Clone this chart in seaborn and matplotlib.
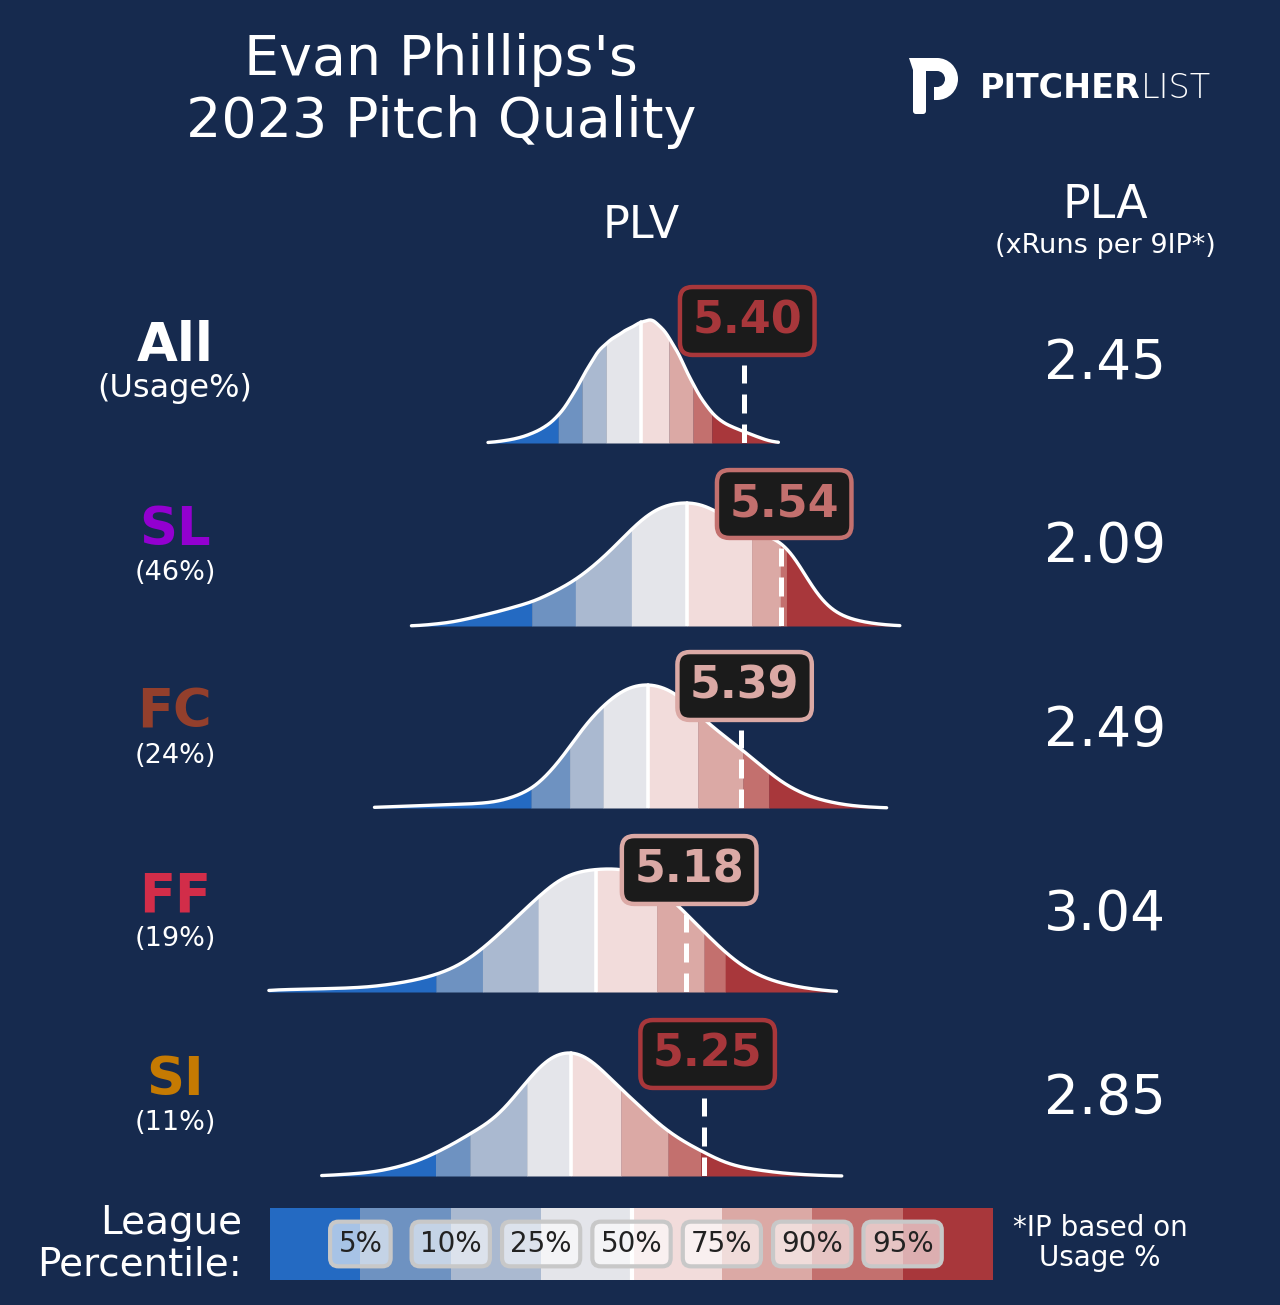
import numpy as np
import matplotlib.pyplot as plt
import seaborn as sns
from matplotlib.colors import ListedColormap
from matplotlib.patches import Wedge, Polygon, FancyBboxPatch

# ------------------------------------------------ DATA ------------------------------------------------ #
pitches = ['All', 'SL', 'FC', 'FF', 'SI']
pitch_colors = ['white', '#9300d0', '#933f2c', '#d22d49', '#c57a02']
usage = ['(Usage%)', '(46%)', '(24%)', '(19%)', '(11%)']
pla = [2.45, 2.09, 2.49, 3.04, 2.85]
plv = [5.40, 5.54, 5.39, 5.18, 5.25]

pct_labels = ['5%', '10%', '25%', '50%', '75%', '90%', '95%']
pcts_all = [4.696, 4.786, 4.877, 5.010, 5.116, 5.207, 5.278]
pcts_sl = [4.596, 4.762, 4.974, 5.185, 5.429, 5.538, 5.561]
pcts_fc = [4.594, 4.739, 4.867, 5.036, 5.225, 5.396, 5.494]
pcts_ff = [4.233, 4.410, 4.621, 4.839, 5.070, 5.248, 5.329]
pcts_si = [4.232, 4.362, 4.577, 4.743, 4.934, 5.112, 5.236]

# league PLV density (PLV value, relative height)
grid_all = [4.43, 4.45, 4.50, 4.55, 4.60, 4.65, 4.70, 4.75, 4.80, 4.85, 4.90, 4.95, 5.00,
            5.05, 5.10, 5.15, 5.20, 5.25, 5.30, 5.35, 5.40, 5.45, 5.50, 5.53]
dens_all = [0, 0.8, 2.5, 5, 9.5, 16, 27, 46, 70, 92, 102, 110, 117,
            123, 110, 89, 60, 38, 23, 16, 11.3, 6, 1.5, 0]

grid_sl = [4.14, 4.20, 4.25, 4.30, 4.35, 4.40, 4.45, 4.50, 4.55, 4.60, 4.65, 4.70, 4.75,
           4.80, 4.85, 4.90, 4.95, 5.00, 5.05, 5.10, 5.15, 5.20, 5.25, 5.30, 5.35, 5.40,
           5.45, 5.50, 5.55, 5.60, 5.65, 5.70, 5.75, 5.80, 5.85, 5.90, 5.95, 5.99]
dens_sl = [0, 1, 2.5, 3.8, 7, 10, 13, 16.5, 20.5, 23.6, 30, 36.5, 43.5,
           53, 64, 76, 90, 103, 114, 120, 122.5, 123, 120.5, 113, 105, 98,
           93, 88, 84, 66, 41, 22, 12, 7, 4, 2, 0.8, 0]

grid_fc = [4.00, 4.05, 4.10, 4.15, 4.20, 4.25, 4.30, 4.35, 4.40, 4.45, 4.50, 4.55, 4.60,
           4.65, 4.70, 4.75, 4.80, 4.85, 4.90, 4.95, 5.00, 5.05, 5.10, 5.15, 5.20, 5.25,
           5.30, 5.35, 5.40, 5.45, 5.50, 5.55, 5.60, 5.65, 5.70, 5.75, 5.80, 5.85, 5.90, 5.94]
dens_fc = [0.7, 1.2, 1.6, 2.1, 2.6, 3.0, 3.4, 3.9, 4.6, 5.5, 8.5, 13, 19,
           31, 46, 64, 83, 97, 109, 118, 122, 122.5, 119, 112, 99, 87,
           76, 66, 56, 45, 34, 24, 17, 11, 7.5, 4.5, 2.5, 1.3, 0.6, 0]

grid_ff = [3.60, 3.65, 3.70, 3.75, 3.80, 3.85, 3.90, 3.95, 4.00, 4.05, 4.10, 4.15, 4.20,
           4.25, 4.30, 4.35, 4.40, 4.45, 4.50, 4.55, 4.60, 4.65, 4.70, 4.75, 4.80, 4.85,
           4.90, 4.95, 5.00, 5.05, 5.10, 5.15, 5.20, 5.25, 5.30, 5.35, 5.40, 5.45, 5.50,
           5.55, 5.60, 5.65, 5.70, 5.75]
dens_ff = [2, 2.3, 2.6, 2.9, 3.2, 3.5, 3.9, 4.5, 5.5, 7.2, 9, 11.5, 14.5,
           18.5, 23.5, 31, 40.5, 52, 64, 77, 89, 101, 112, 117.5, 120.5, 121.5,
           122, 121.5, 118, 108, 97, 86, 72, 59, 46, 34, 24, 17, 11.5,
           8, 5.3, 3.2, 1.6, 0.3]

grid_si = [3.80, 3.85, 3.90, 3.95, 4.00, 4.05, 4.10, 4.15, 4.20, 4.25, 4.30, 4.35, 4.40,
           4.45, 4.50, 4.55, 4.60, 4.65, 4.70, 4.75, 4.80, 4.85, 4.90, 4.95, 5.00, 5.05,
           5.10, 5.15, 5.20, 5.25, 5.30, 5.35, 5.40, 5.45, 5.50, 5.55, 5.60, 5.65, 5.70, 5.77]
dens_si = [0.3, 1, 1.8, 2.7, 4, 6.5, 9.5, 13.5, 18.5, 25, 31.5, 39.5, 47,
           55, 68, 84, 100, 114, 121, 122.5, 118, 107, 94, 81, 70, 57,
           46, 37, 29.5, 23, 16, 11, 8, 6, 4.2, 2.7, 1.8, 1, 0.5, 0]

grids = [grid_all, grid_sl, grid_fc, grid_ff, grid_si]
dens = [dens_all, dens_sl, dens_fc, dens_ff, dens_si]
pcts = [pcts_all, pcts_sl, pcts_fc, pcts_ff, pcts_si]

# ------------------------------------------------ STYLE ----------------------------------------------- #
BG = '#162a4e'
band_colors = ['#246ac2', '#6e92c1', '#aab9d0', '#e4e5ea', '#f2dcdb', '#dba9a5', '#c3706e', '#a8373b']
W, H = 1280, 1305
baselines = [443, 626, 808, 992, 1176]
label_y = [346, 530, 713, 896, 1080]
pla_y = [364, 547, 731, 915, 1099]
X0, X1 = 5.18 - 686 / 264, 5.18 + 594 / 264   # PLV at left / right edge of figure

sns.set_theme(style='white')
plt.rcParams['font.family'] = ['DejaVu Sans']
plt.rcParams['text.color'] = 'white'

fig = plt.figure(figsize=(12.8, 13.05), dpi=100, facecolor=BG)


def fx(x):
    return x / W


def fy(y):
    return 1 - y / H


# full-figure axes in pixel units (y down) for the text and the logo
bg = fig.add_axes([0, 0, 1, 1])
bg.set_xlim(0, W)
bg.set_ylim(H, 0)
bg.axis('off')

# title
bg.text(441, 91, "Evan Phillips's\n2023 Pitch Quality", ha='center', va='center',
        fontsize=40, linespacing=1.17, color='white')

# logo: P mark + wordmark
bg.add_patch(FancyBboxPatch((913, 66), 13, 48, boxstyle='round,pad=0,rounding_size=3',
                            fc='white', ec='none'))
bg.add_patch(Polygon([(909, 58), (938, 58), (938, 71), (926, 71), (913, 70)],
                     closed=True, fc='white', ec='none'))
bg.add_patch(Wedge((937, 79), 21, -90, 90, width=13, fc='white', ec='none'))
bg.add_patch(Polygon([(934, 87), (938, 87), (938, 100), (934, 100)], closed=True,
                     fc='white', ec='none'))
t = bg.text(980, 89, 'PITCHER', ha='left', va='center', fontsize=24, fontweight='bold', color='white')
bg.annotate('LIST', xy=(1, 0), xycoords=t, ha='left', va='bottom', fontsize=24,
            fontweight='light', color='white')

# headers
bg.text(641, 225, 'PLV', ha='center', va='center', fontsize=32, color='white')
bg.text(1105, 205, 'PLA', ha='center', va='center', fontsize=33, color='white')
bg.text(1105, 246, '(xRuns per 9IP*)', ha='center', va='center', fontsize=19.5, color='white')

# ------------------------------------------------ ROWS ------------------------------------------------ #
for i, name in enumerate(pitches):
    bg.text(175, label_y[i], name, ha='center', va='center', fontsize=38,
            fontweight='bold', color=pitch_colors[i])
    bg.text(175, label_y[i] + 43, usage[i], ha='center', va='center',
            fontsize=23 if i == 0 else 19.5, color='white')
    bg.text(1105, pla_y[i], f'{pla[i]:.2f}', ha='center', va='center', fontsize=39.5, color='white')

    yb = baselines[i]
    ax = fig.add_axes([0, fy(yb), 1, 170 / H])
    ax.set_facecolor('none')
    sns.kdeplot(x=np.array(grids[i]), weights=np.array(dens[i]), bw_adjust=0.27, cut=0,
                gridsize=1500, color='white', lw=2.4, ax=ax)
    line = ax.lines[-1]
    line.set_zorder(3)
    line.set_clip_on(False)
    xs, ys = line.get_data()
    xs, ys = np.asarray(xs), np.asarray(ys)
    peak = ys.max()

    # percentile bands under the curve
    edges = [xs[0]] + pcts[i] + [xs[-1]]
    step = xs[1] - xs[0]
    for j in range(8):
        m = (xs >= edges[j] - step) & (xs <= edges[j + 1] + step)
        ax.fill_between(xs[m], 0, ys[m], color=band_colors[j], lw=0, zorder=1)

    med = pcts[i][3]
    ax.plot([med, med], [0, np.interp(med, xs, ys)], color='white', lw=2.6, zorder=2)

    # pitcher's value
    v = plv[i]
    ax.plot([v, v], [0, peak * 78 / 123], color='white', lw=3.6, dashes=[3.8, 2.2], zorder=4)
    c = band_colors[int(np.searchsorted(pcts[i], v))]
    ax.text(v + 0.012, peak * 122 / 123, f'{v:.2f}', ha='center', va='center', fontsize=32,
            fontweight='bold', color=c, zorder=6,
            bbox=dict(boxstyle='round,pad=0.28', fc='#1b1b1b', ec=c, lw=3.2))

    ax.set_xlim(X0, X1)
    ax.set_ylim(0, peak * 170 / 123)
    ax.axis('off')

# ------------------------------------------------ LEGEND ---------------------------------------------- #
lax = fig.add_axes([fx(270), fy(1280), (993 - 270) / W, 72 / H])
sns.heatmap(np.array([list(range(8))]), cmap=ListedColormap(band_colors), vmin=-0.5, vmax=7.5,
            cbar=False, xticklabels=False, yticklabels=False, ax=lax)
lax.axvline(4, color='white', lw=3)
for j, lab in enumerate(pct_labels):
    lax.text(j + 1, 0.5, lab, ha='center', va='center', fontsize=20, color='#222222',
             bbox=dict(boxstyle='round,pad=0.3', fc=(1, 1, 1, 0.6), ec='#c8c8c8', lw=3))

bg.text(242, 1244, 'League\nPercentile:', ha='right', va='center', fontsize=28,
        linespacing=1.12, color='white')
bg.text(1100, 1243, '*IP based on\nUsage %', ha='center', va='center', fontsize=20,
        linespacing=1.1, color='white')

fig.savefig('out.png', dpi=100, facecolor=BG)
